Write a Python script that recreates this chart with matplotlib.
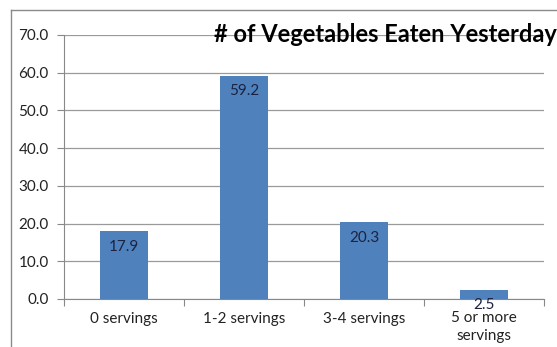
import matplotlib
matplotlib.use("Agg")
import matplotlib.pyplot as plt
from matplotlib.lines import Line2D

plt.rcParams['font.family'] = ['Lato', 'DejaVu Sans']

# Data
categories = ["0 servings", "1-2 servings", "3-4 servings", "5 or more\nservings"]
values = [17.9, 59.2, 20.3, 2.5]
yticks = [0, 10, 20, 30, 40, 50, 60, 70]

fig = plt.figure(figsize=(5.57, 3.47), dpi=100)
ax = fig.add_axes([64/557, 1-299/347, 480/557, 264/347])

x = range(len(categories))
bars = ax.bar(x, values, width=0.4, color='#4F81BD', zorder=3)

ax.set_xlim(-0.5, len(categories) - 0.5)
ax.set_ylim(0, 70)
ax.set_yticks(yticks)
ax.set_yticklabels([f"{v:.1f}" for v in yticks], fontsize=11, color='#222222')
ax.yaxis.grid(True, color='#9a9a9a', linewidth=0.9, zorder=0)
ax.tick_params(axis='y', length=5, width=0.8, color='#888888', pad=6)

# category labels sit between the boundary ticks
ax.set_xticks(list(x))
ax.set_xticklabels(categories, fontsize=11, color='#222222', linespacing=1.3)
ax.tick_params(axis='x', length=0, pad=9)
ax.set_xticks([i - 0.5 for i in range(len(categories) + 1)], minor=True)
ax.tick_params(axis='x', which='minor', length=5, width=0.8, color='#888888')

for side in ['top', 'right']:
    ax.spines[side].set_visible(False)
for side in ['left', 'bottom']:
    ax.spines[side].set_color('#888888')
    ax.spines[side].set_linewidth(0.8)

# value labels just inside the bar tops
for b, v in zip(bars, values):
    ax.annotate(f"{v:.1f}", (b.get_x() + b.get_width()/2, v),
                xytext=(0, -6), textcoords='offset points',
                ha='center', va='top', fontsize=11, color='#1c2340', zorder=4)

fig.text(385/557, 1-35/347, "# of Vegetables Eaten Yesterday",
         ha='center', va='center', fontsize=17, fontweight='bold', color='black')

# chart area border
fig.add_artist(Line2D([11/557, 11/557], [0, 1-10/347], transform=fig.transFigure,
                      color='#8a8a8a', linewidth=1))
fig.add_artist(Line2D([11/557, 1], [1-10/347, 1-10/347], transform=fig.transFigure,
                      color='#8a8a8a', linewidth=1))

fig.savefig("out.png", dpi=100)
